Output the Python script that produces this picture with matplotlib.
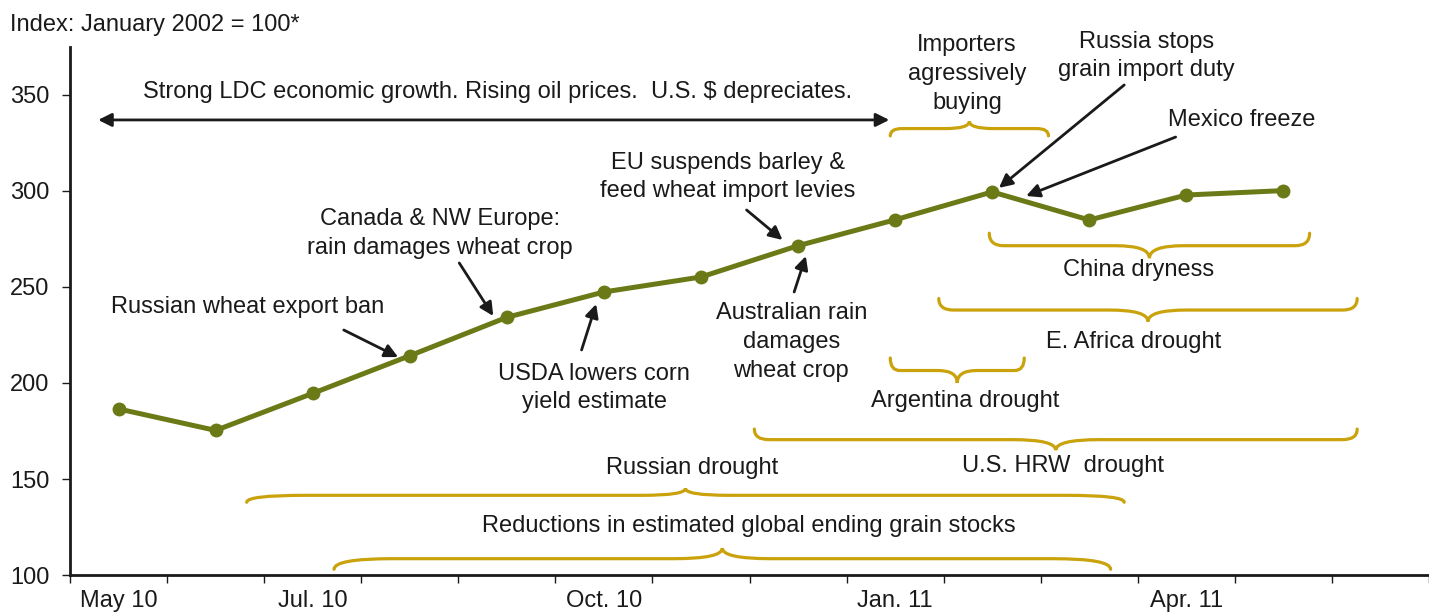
import matplotlib
matplotlib.use('Agg')
import matplotlib.pyplot as plt
from matplotlib.path import Path
from matplotlib.patches import PathPatch

plt.rcParams['font.family'] = ['Liberation Sans', 'DejaVu Sans']

# monthly index, May 2010 - May 2011
months = ['May 10', 'Jun 10', 'Jul 10', 'Aug 10', 'Sep 10', 'Oct 10', 'Nov 10',
          'Dec 10', 'Jan 11', 'Feb 11', 'Mar 11', 'Apr 11', 'May 11']
index_values = [186.5, 175.3, 194.6, 214.2, 234.2, 247.4, 255.2,
                271.5, 285.0, 299.5, 284.9, 297.9, 300.2]
tick_pos = [0, 2, 5, 8, 11]
tick_labels = ['May 10', 'Jul. 10', 'Oct. 10', 'Jan. 11', 'Apr. 11']
y_ticks = [100, 150, 200, 250, 300, 350]

LINE = '#6b7a17'
GOLD = '#c9a20c'
TXT = '#1a1a1a'
FS = 17

fig = plt.figure(figsize=(14.29, 6.14), dpi=100)
ax = fig.add_axes([0.049, 0.0635, 0.951, 0.86])

x = list(range(len(months)))
ax.plot(x, index_values, color=LINE, lw=3.6, marker='o', markersize=9,
        markerfacecolor=LINE, markeredgecolor=LINE, zorder=3)

ax.set_xlim(-0.5, 13.38)
ax.set_ylim(100, 375)

for s in ['top', 'right']:
    ax.spines[s].set_visible(False)
for s in ['left', 'bottom']:
    ax.spines[s].set_linewidth(2)
    ax.spines[s].set_color(TXT)

ax.set_yticks(y_ticks)
ax.tick_params(axis='y', length=6, width=1, labelsize=FS, colors=TXT, pad=9)
ax.set_xticks(tick_pos)
ax.set_xticklabels(tick_labels)
ax.set_xticks([i - 0.5 for i in range(15)], minor=True)
ax.tick_params(axis='x', which='major', length=0, labelsize=FS, colors=TXT, pad=11)
ax.tick_params(axis='x', which='minor', length=6, width=1, color=TXT)

fig.text(0.007, 0.96, 'Index: January 2002 = 100*', fontsize=FS, color=TXT, va='center')


def brace(x0, x1, y, d, up, r_end, r_tip):
    s = 1 if up else -1
    xm = (x0 + x1) / 2
    verts = [(x0, y - s * d), (x0, y), (x0 + r_end, y),
             (xm - r_tip, y), (xm, y), (xm, y + s * d),
             (xm, y), (xm + r_tip, y),
             (x1 - r_end, y), (x1, y), (x1, y - s * d)]
    codes = [Path.MOVETO, Path.CURVE3, Path.CURVE3,
             Path.LINETO, Path.CURVE3, Path.CURVE3,
             Path.CURVE3, Path.CURVE3,
             Path.LINETO, Path.CURVE3, Path.CURVE3]
    ax.add_patch(PathPatch(Path(verts, codes), fill=False, edgecolor=GOLD,
                           lw=2.3, capstyle='round', zorder=2))


def note(x, y, s):
    ax.text(x, y, s, fontsize=FS, color=TXT, ha='center', va='center',
            linespacing=1.4)


def arrow(tail, head, style='-|>'):
    ax.annotate('', xy=head, xytext=tail,
                arrowprops=dict(arrowstyle=style, color=TXT, lw=2,
                                mutation_scale=20, shrinkA=0, shrinkB=0))


# braces with their labels
brace(7.95, 9.58, 332.5, 3.8, True, 0.12, 0.25)
note(8.74, 361, 'Importers\nagressively\nbuying')
brace(8.97, 12.27, 271.5, 6.5, False, 0.15, 0.35)
note(10.51, 258.9, 'China dryness')
brace(8.45, 12.76, 238, 6.0, False, 0.15, 0.4)
note(10.46, 221.4, 'E. Africa drought')
brace(7.95, 9.33, 206.5, 6.5, False, 0.1, 0.2)
note(8.72, 190.6, 'Argentina drought')
brace(6.55, 12.76, 170.5, 5.5, False, 0.15, 0.45)
note(9.73, 156.8, 'U.S. HRW  drought')
brace(1.32, 10.36, 141.5, 3.6, True, 0.6, 0.45)
note(5.91, 155.7, 'Russian drought')
brace(2.22, 10.22, 108.5, 5.5, True, 0.6, 0.5)
note(6.49, 125.5, 'Reductions in estimated global ending grain stocks')

# events with arrows
arrow((-0.21, 337), (7.94, 337), '<|-|>')
note(3.9, 351.6, 'Strong LDC economic growth. Rising oil prices.  U.S. $ depreciates.')
note(1.33, 239.6, 'Russian wheat export ban')
arrow((2.32, 227.6), (2.88, 213.5))
note(3.31, 278, 'Canada & NW Europe:\nrain damages wheat crop')
arrow((3.51, 262.5), (3.86, 234.9))
note(4.9, 197.4, 'USDA lowers corn\nyield estimate')
arrow((4.77, 217.2), (4.92, 241.1))
note(6.28, 307.3, 'EU suspends barley &\nfeed wheat import levies')
arrow((6.47, 290.1), (6.84, 274.5))
note(6.93, 221.4, 'Australian rain\ndamages\nwheat crop')
arrow((6.96, 247.4), (7.08, 266.1))
note(10.59, 370.3, 'Russia stops\ngrain import duty')
arrow((10.36, 355.2), (9.07, 301.6))
note(11.57, 337, 'Mexico freeze')
arrow((10.89, 328.1), (9.35, 297.4))

fig.savefig('out.png', dpi=100)
